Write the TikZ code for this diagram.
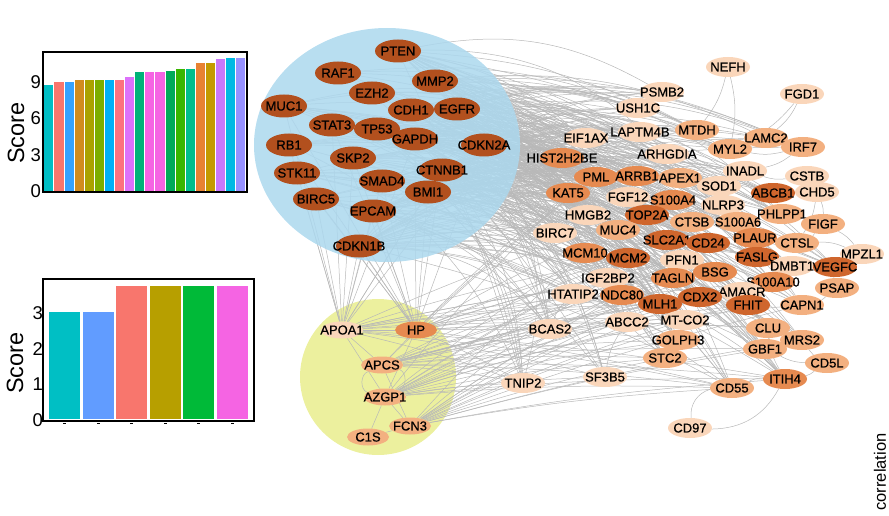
\documentclass[tikz,border=0pt]{standalone}
\usepackage{fontspec}
\setmainfont{Liberation Sans}
\newfontfamily\genefam[FakeBold=0.6]{Liberation Sans}
\usetikzlibrary{shapes.geometric}

\pgfdeclarelayer{back}
\pgfdeclarelayer{edges}
\pgfdeclarelayer{veil}
\pgfsetlayers{back,edges,veil,main}

% node colours
\definecolor{hubc}{RGB}{178,80,30}
\definecolor{oraA}{RGB}{207,102,45}
\definecolor{oraB}{RGB}{230,138,80}
\definecolor{oraC}{RGB}{243,176,128}
\definecolor{oraD}{RGB}{250,214,186}
\definecolor{skyc}{RGB}{172,216,238}
\definecolor{limec}{RGB}{236,240,158}
\definecolor{edgec}{RGB}{184,184,184}
% bar colours
\definecolor{bA}{RGB}{0,190,196}
\definecolor{bB}{RGB}{248,118,109}
\definecolor{bC}{RGB}{53,162,255}
\definecolor{bD}{RGB}{209,140,30}
\definecolor{bE}{RGB}{170,162,0}
\definecolor{bF}{RGB}{124,174,0}
\definecolor{bG}{RGB}{0,176,246}
\definecolor{bH}{RGB}{252,113,127}
\definecolor{bI}{RGB}{220,113,250}
\definecolor{bJ}{RGB}{0,178,120}
\definecolor{bK}{RGB}{245,100,227}
\definecolor{bL}{RGB}{0,170,90}
\definecolor{bM}{RGB}{57,182,0}
\definecolor{bN}{RGB}{0,190,140}
\definecolor{bO}{RGB}{232,130,50}
\definecolor{bP}{RGB}{196,154,0}
\definecolor{bQ}{RGB}{200,120,250}
\definecolor{bR}{RGB}{0,185,227}
\definecolor{bS}{RGB}{150,145,255}
\definecolor{cA}{RGB}{0,191,196}
\definecolor{cB}{RGB}{97,156,255}
\definecolor{cC}{RGB}{248,118,109}
\definecolor{cD}{RGB}{183,159,0}
\definecolor{cE}{RGB}{0,186,56}
\definecolor{cF}{RGB}{245,100,227}

\newcommand*{\genefont}{\genefam\fontsize{13}{13}\selectfont}
\newcommand*{\tickfont}{\fontsize{18.5}{18.5}\selectfont}
\newcommand*{\axisfont}{\fontsize{23.5}{23.5}\selectfont}
\newcommand*{\gl}[1]{\makebox[0pt]{#1}}

\newcommand*{\eastlist}{CDKN2A,EGFR,MMP2,PTEN,CTNNB1,BMI1,GAPDH,CDH1,SMAD4,EPCAM,CDKN1B,TP53}
\newcommand*{\westlist}{MUC1,RB1,STK11,BIRC5,RAF1,STAT3,SKP2,EZH2}
\newcommand*{\corelist}{PSMB2,USH1C,EIF1AX,LAPTM4B,MTDH,LAMC2,MYL2,IRF7,ARHGDIA,HIST2H2BE,INADL,PML,ARRB1,APEX1,SOD1,ABCB1,KAT5,FGF12,S100A4,NLRP3,PHLPP1,HMGB2,TOP2A,S100A6,CTSB,MUC4,BIRC7,SLC2A1,PLAUR,CTSL,CD24,FASLG,MCM10,MCM2,PFN1,DMBT1,VEGFC,BSG,IGF2BP2,TAGLN,S100A10,AMACR,HTATIP2,NDC80,CDX2,MLH1,FHIT,CAPN1,ABCC2,MTCO2,BCAS2,CLU,GOLPH3,MRS2,GBF1,STC2,SF3B5,TNIP2,ITIH4,CD55}
\newcommand*{\lowlist}{TNIP2,BCAS2,SF3B5,STC2,GOLPH3,MTCO2,ABCC2,MLH1,CDX2,FHIT,CLU,GBF1,ITIH4,CD55,MRS2,CAPN1,TAGLN,NDC80,HTATIP2,IGF2BP2,BSG,AMACR,S100A10,PFN1,MCM2,MCM10,CD24,SLC2A1,TOP2A,KAT5,PML}

\begin{document}
\begin{tikzpicture}
[
	x=1pt,y=-1pt,
	gene/.style={ellipse,inner sep=0pt,minimum width=44pt,minimum height=20pt,font=\genefont},
	hub/.style={gene,fill=hubc,minimum width=46pt,minimum height=23pt},
	small/.style={gene,minimum width=42pt,minimum height=17pt},
	link/.style={draw=edgec,line width=0.5pt},
	tick/.style={font=\tickfont,anchor=east,inner sep=0pt},
	axislab/.style={font=\axisfont,rotate=90,inner sep=0pt}
]
	\useasboundingbox (0,0) rectangle (889,516);
	\pgfmathsetseed{11}

	% top bar chart
	\foreach \v/\c [count=\i] in {8.8/bA,9.0/bB,9.0/bC,9.2/bD,9.2/bE,9.2/bF,9.2/bG,9.2/bH,9.45/bI,9.8/bJ,9.8/bK,9.85/bK,9.95/bL,10.1/bM,10.1/bN,10.6/bO,10.6/bP,10.9/bQ,11.0/bR,11.0/bS}
		\fill[\c] ({44.3+(\i-1)*10.1},191) rectangle ++(9.1,{-\v*12.1});
	\draw[line width=1.6pt] (43,52) rectangle (247,192);
	\foreach \t in {0,3,6,9}
		\node[tick] (ta\t) at (41,{191-\t*12.1}) {\t};
	\node[axislab] (scoreA) at (16,133) {Score};

	% bottom bar chart
	\foreach \xa/\v/\c [count=\i] in {49/3.0/cA,83/3.0/cB,116/3.72/cC,150/3.72/cD,183/3.72/cE,217/3.72/cF}{
		\fill[\c] (\xa,419) rectangle ++(30.5,{-\v*35.7});
		\draw[line width=0.8pt] ({\xa+14},423) -- ++(3,0);
	}
	\draw[line width=1.6pt] (43,279) rectangle (254,421);
	\foreach \t in {0,1,2,3}
		\node[tick] (tb\t) at (43,{420-\t*35.7}) {\t};
	\node[axislab] (scoreB) at (15,363) {Score};

	% module backgrounds
	\begin{pgfonlayer}{veil}
		\fill[skyc,fill opacity=0.86] (387,145) ellipse [x radius=133pt, y radius=117pt];
	\end{pgfonlayer}
	\begin{pgfonlayer}{back}
		\fill[limec] (378,377) circle [radius=78pt];
	\end{pgfonlayer}

	% hub module
	\foreach \n/\x/\y in {PTEN/398/51,RAF1/338/73,MMP2/435/81,EZH2/372/93,MUC1/284/106,CDH1/411/110,EGFR/457/109,STAT3/332/125,TP53/377/129,GAPDH/415/139,CDKN2A/484/145,RB1/289/145,SKP2/353/158,STK11/297/173,CTNNB1/442/170,SMAD4/382/181,BMI1/428/192,BIRC5/316/199,EPCAM/373/211,CDKN1B/359/246}
		\node[hub] (\n) at (\x,\y) {\gl{\n}};

	% second module
	\node[small,fill=oraD] (APOA1) at (342,330) {\gl{APOA1}};
	\node[small,fill=oraB] (HP) at (416,330) {\gl{HP}};
	\node[small,fill=oraC] (APCS) at (382,365) {\gl{APCS}};
	\node[small,fill=oraC] (AZGP1) at (385,397) {\gl{AZGP1}};
	\node[small,fill=oraC] (FCN3) at (410,426) {\gl{FCN3}};
	\node[small,fill=oraC] (C1S) at (368,437) {\gl{C1S}};

	% correlated genes
	\foreach \n/\x/\y/\c in {PSMB2/662/92/oraD,USH1C/638/108/oraD,NEFH/728/67/oraD,FGD1/802/94/oraD,
		EIF1AX/586/138/oraD,LAPTM4B/640/132/oraD,MTDH/697/130/oraC,LAMC2/766/138/oraC,
		MYL2/730/149/oraC,IRF7/803/147/oraC,ARHGDIA/667/154/oraD,HIST2H2BE/562/158/oraB,
		INADL/745/171/oraD,CSTB/807/176/oraD,PML/596/177/oraB,ARRB1/637/176/oraB,
		APEX1/680/178/oraC,SOD1/719/186/oraD,ABCB1/773/193/oraA,CHD5/817/192/oraD,
		KAT5/568/193/oraB,FGF12/628/197/oraD,S100A4/673/200/oraB,NLRP3/723/205/oraD,
		PHLPP1/782/214/oraC,HMGB2/588/215/oraD,TOP2A/647/215/oraA,S100A6/738/222/oraC,
		FIGF/823/224/oraC,CTSB/692/222/oraC,MUC4/618/230/oraC,BIRC7/555/233/oraD,
		SLC2A1/667/240/oraA,PLAUR/755/238/oraB,CTSL/797/243/oraC,CD24/708/243/oraA,
		MPZL1/862/254/oraD,FASLG/757/257/oraA,MCM10/585/253/oraB,MCM2/628/258/oraA,
		PFN1/682/260/oraD,DMBT1/792/266/oraD,VEGFC/835/267/oraA,BSG/715/272/oraB,
		IGF2BP2/608/278/oraD,TAGLN/673/278/oraB,S100A10/773/282/oraB,PSAP/837/288/oraC,
		AMACR/742/292/oraD,HTATIP2/573/294/oraD,NDC80/622/295/oraB,CDX2/700/297/oraA,
		MLH1/660/304/oraA,FHIT/748/305/oraA,CAPN1/802/305/oraC,ABCC2/627/322/oraD,
		BCAS2/550/329/oraD,CLU/768/328/oraC,GOLPH3/678/340/oraC,MRS2/802/340/oraC,
		GBF1/765/349/oraC,STC2/665/358/oraC,CD5L/827/363/oraC,SF3B5/605/377/oraD,
		TNIP2/523/383/oraD,ITIH4/785/379/oraB,CD55/732/388/oraC,CD97/690/428/oraD}
		\node[gene,fill=\c] (\n) at (\x,\y) {\gl{\n}};
	\node[gene,fill=oraD] (MTCO2) at (685,320) {\gl{MT-CO2}};

	\node[font=\fontsize{16.5}{16.5}\selectfont,rotate=90,inner sep=0pt] (corr) at (880,472) {correlation};

	% edges
	\begin{pgfonlayer}{edges}
		\foreach \h in \eastlist{
			\foreach \r in \corelist{
				\pgfmathrandominteger{\k}{1}{100}
				\pgfmathrandominteger{\b}{3}{24}
				\ifnum\k<50 \draw[link] (\h) to[bend left=\b] (\r); \fi
			}
		}
		\foreach \h in \westlist{
			\foreach \r in \corelist{
				\pgfmathrandominteger{\k}{1}{100}
				\pgfmathrandominteger{\b}{3}{24}
				\ifnum\k<14 \draw[link] (\h) to[bend left=\b] (\r); \fi
			}
		}
		\foreach \h in {MUC1,RB1,STK11,BIRC5,EPCAM,CDKN1B,SMAD4,BMI1,CTNNB1,SKP2,CDKN2A,GAPDH,STAT3}
			\foreach \y in {APOA1,HP}
				\draw[link] (\h) -- (\y);
		\foreach \y in {APOA1,HP,APCS,AZGP1,FCN3}{
			\foreach \r in \lowlist{
				\pgfmathrandominteger{\k}{1}{100}
				\ifnum\k<50 \draw[link] (\y) to[bend left=3] (\r); \fi
			}
		}
		\foreach \a/\b in {APOA1/APCS,HP/APCS,AZGP1/C1S,AZGP1/FCN3,C1S/FCN3,APOA1/HP,HP/AZGP1,APOA1/AZGP1,APCS/FCN3}
			\draw[link] (\a) -- (\b);
		\draw[link] (APCS) to[bend left=70] (AZGP1);
		\draw[link] (APCS) to[bend right=70] (AZGP1);
		\foreach \a/\b in {NEFH/MTDH,NEFH/MYL2,FGD1/LAMC2,FGD1/MYL2,IRF7/INADL,IRF7/MYL2,LAMC2/MYL2,CSTB/INADL,CHD5/FIGF,CHD5/CTSL,FIGF/MPZL1,FIGF/CTSL,CTSL/MPZL1,VEGFC/MPZL1,PSAP/CAPN1,PSAP/VEGFC,CD5L/MRS2,CD5L/ITIH4,CD5L/GBF1,CD55/ITIH4,ITIH4/CLU,SF3B5/ABCC2,BCAS2/HTATIP2,CLU/GBF1}
			\draw[link] (\a) to[bend left=12] (\b);
		\draw[link] (CD97) to[bend left=40] (CD55);
		\draw[link] (CD97) to[bend right=30] (ITIH4);
	\end{pgfonlayer}

\end{tikzpicture}
\end{document}
